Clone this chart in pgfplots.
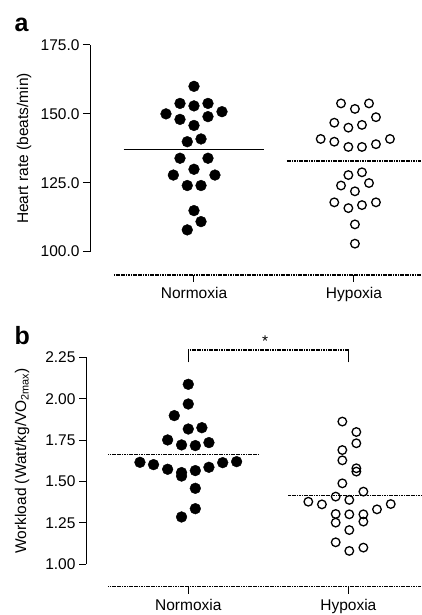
\documentclass[border=0pt]{standalone}
\usepackage{pgfplots}
\pgfplotsset{compat=1.18}
\usepackage{fontspec}
\setmainfont{Liberation Sans}

\newcommand{\lbl}{\fontsize{15.5}{18}\selectfont}

\tikzset{meanln/.style={black, line width=1.4pt, dash pattern=on 1.2pt off 0.5pt}}
\pgfplotsset{
  dotplot/.style={
    scale only axis,
    anchor=south west,
    clip=false,
    axis x line*=bottom,
    axis y line*=left,
    axis line style={draw=none},
    tick align=outside,
    major tick length=7pt,
    tick style={black, line width=1pt},
    xtick={0,1},
    xticklabels={Normoxia,Hypoxia},
    tick label style={font=\lbl},
    xticklabel style={yshift=-2pt},
    /pgf/number format/assume math mode=true,
  },
  filled/.style={only marks, mark=*, mark size=5.4pt, mark options={fill=black, draw=black}},
  hollow/.style={only marks, mark=o, mark size=4.3pt, mark options={draw=black, line width=1.3pt}},
}

\begin{document}
\begin{tikzpicture}
\path[use as bounding box] (0pt,0pt) rectangle (421pt,615pt);

% panel a
\begin{axis}[dotplot,
  at={(90pt,340pt)}, width=331pt, height=230pt,
  xmin=-0.65, xmax=1.419, ymin=91.53, ymax=175,
  ytick={100,125,150,175},
  yticklabel style={/pgf/number format/.cd, fixed, fixed zerofill, precision=1},
]
\addplot[filled] coordinates {
  (0,160) (-0.0875,153.8) (0,152.9) (0.0875,153.8) (-0.175,150.0) (-0.0875,148.0)
  (0.0875,149.0) (0.175,150.8) (0,145.8) (-0.042,139.9) (0.044,140.9) (-0.0875,133.9)
  (0.0875,133.9) (0,129.9) (-0.129,127.8) (0.131,127.8) (-0.042,124.0) (0.044,124.0)
  (0,114.9) (0.044,110.9) (-0.042,107.9)
};
\addplot[hollow] coordinates {
  (0.919,153.8) (1.006,151.8) (1.094,153.8) (0.877,146.8) (0.965,145.0) (1.05,146.0)
  (1.1375,148.8) (0.792,140.9) (0.877,139.9) (0.965,138.0) (1.05,138.0) (1.1375,139.0)
  (1.225,140.9) (0.965,127.8) (1.05,128.8) (0.919,124.0) (1.006,121.9) (1.094,124.9)
  (0.877,117.9) (0.965,115.8) (1.05,116.9) (1.1375,117.9) (1.006,109.9) (1.006,102.9)
};
% group means
\addplot[black, line width=0.9pt] coordinates {(-0.44,137.1) (0.44,137.1)};
\addplot[meanln] coordinates {(0.58,132.9) (1.419,132.9)};
% split axis lines
\draw[black, line width=1pt] (axis cs:-0.65,100) -- (axis cs:-0.65,175);
\draw[meanln] (axis cs:-0.5,91.53) -- (axis cs:1.419,91.53);
\end{axis}

% panel b
\begin{axis}[dotplot,
  at={(86pt,28.3pt)}, width=335pt, height=229.4pt,
  xmin=-0.639, xmax=1.454, ymin=0.865, ymax=2.25,
  ytick={1,1.25,1.5,1.75,2,2.25},
  yticklabel style={/pgf/number format/.cd, fixed, fixed zerofill, precision=2},
]
\addplot[filled] coordinates {
  (0,2.087) (0,1.968) (-0.0875,1.898) (0,1.817) (0.085,1.825) (-0.129,1.751)
  (-0.042,1.721) (0.044,1.717) (0.129,1.735) (-0.302,1.616) (-0.217,1.602) (-0.129,1.574)
  (-0.042,1.554) (-0.042,1.533) (0.044,1.566) (0.129,1.586) (0.215,1.614) (0.302,1.620)
  (0.044,1.459) (0.044,1.336) (-0.042,1.286)
};
\addplot[hollow] coordinates {
  (0.9625,1.862) (1.05,1.799) (1.05,1.731) (0.9625,1.690) (0.9625,1.628) (1.05,1.580)
  (1.05,1.560) (0.9625,1.489) (1.094,1.439) (0.921,1.409) (1.006,1.389) (0.75,1.378)
  (0.835,1.362) (1.265,1.364) (1.179,1.332) (0.921,1.304) (1.006,1.302) (1.094,1.302)
  (0.921,1.252) (1.094,1.258) (1.006,1.207) (0.921,1.133) (1.006,1.081) (1.094,1.101)
};
\addplot[meanln] coordinates {(-0.5,1.662) (0.438,1.662)};
\addplot[meanln] coordinates {(0.625,1.415) (1.454,1.415)};
\draw[black, line width=1pt] (axis cs:-0.639,1) -- (axis cs:-0.639,2.25);
\draw[meanln] (axis cs:-0.5,0.865) -- (axis cs:1.454,0.865);
% significance bracket
\draw[black, line width=1pt] (axis cs:0,2.22) -- (axis cs:0,2.294);
\draw[black, line width=1pt] (axis cs:1,2.22) -- (axis cs:1,2.294);
\draw[meanln] (axis cs:0,2.294) -- (axis cs:1,2.294);
\node[font=\lbl] at (axis cs:0.48,2.345) {*};
\end{axis}

% panel letters and axis titles
\node[anchor=base west, font=\bfseries\fontsize{25}{25}\selectfont] at (11pt,583pt) {a};
\node[anchor=base west, font=\bfseries\fontsize{25}{25}\selectfont] at (11pt,270pt) {b};
\node[rotate=90, font=\lbl] at (24pt,466.5pt) {Heart rate (beats/min)};
\node[rotate=90, font=\lbl] at (22pt,154.2pt) {Workload (Watt/kg/VO\textsubscript{2max})};
\end{tikzpicture}
\end{document}
